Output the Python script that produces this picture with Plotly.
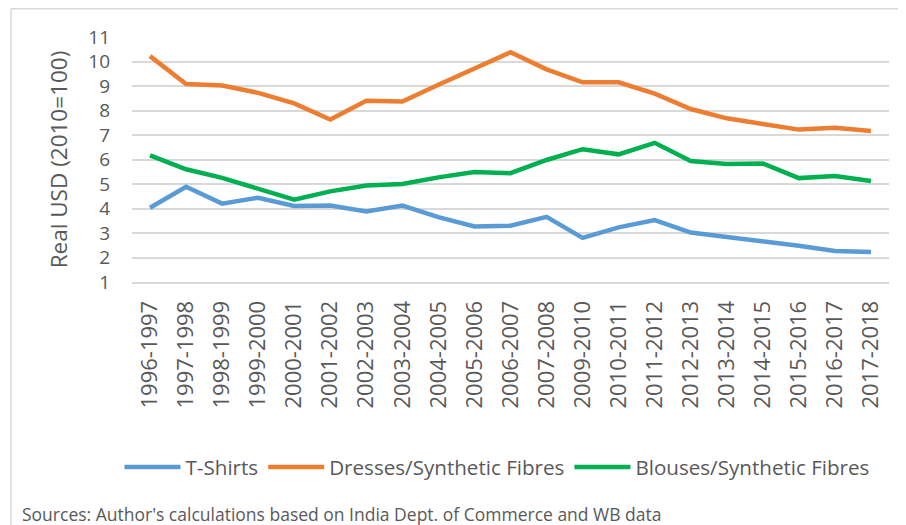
import plotly.graph_objects as go

categories = ["1996-1997", "1997-1998", "1998-1999", "1999-2000", "2000-2001",
              "2001-2002", "2002-2003", "2003-2004", "2004-2005", "2005-2006",
              "2006-2007", "2007-2008", "2009-2010", "2010-2011", "2011-2012",
              "2012-2013", "2013-2014", "2014-2015", "2015-2016", "2016-2017",
              "2017-2018"]

t_shirts = [4.03, 4.89, 4.20, 4.44, 4.10, 4.12, 3.88, 4.12, 3.65, 3.27,
            3.30, 3.66, 2.80, 3.23, 3.53, 3.02, 2.84, 2.67, 2.48, 2.27, 2.22]
dresses = [10.22, 9.08, 9.02, 8.72, 8.29, 7.63, 8.40, 8.37, 9.05, 9.70,
           10.38, 9.68, 9.15, 9.15, 8.69, 8.06, 7.68, 7.45, 7.22, 7.30, 7.16]
blouses = [6.17, 5.60, 5.25, 4.82, 4.36, 4.70, 4.94, 5.00, 5.27, 5.49,
           5.44, 5.98, 6.42, 6.21, 6.68, 5.94, 5.82, 5.84, 5.24, 5.33, 5.12]

series_names = ["T-Shirts", "Dresses/Synthetic Fibres", "Blouses/Synthetic Fibres"]
series_values = [t_shirts, dresses, blouses]
series_colors = ["#5B9BD5", "#ED7D31", "#00B050"]

y_ticks = list(range(1, 12))

TEXT = "#595959"
FONT = "Open Sans"

# The page body adds an 8px offset; the figure is sized to the visible area.
W, H = 898, 517
L, R, T, B = 124, 17, 29, 243
PW, PH = W - L - R, H - T - B


def px(rx):
    return (rx - 8 - L) / PW


def py(ry):
    return (H - B - (ry - 8)) / PH


fig = go.Figure()
for name, vals, col in zip(series_names, series_values, series_colors):
    fig.add_trace(go.Scatter(
        x=categories, y=vals, name=name, mode="lines",
        line=dict(color=col, width=4.5, shape="linear"),
    ))

fig.update_layout(
    width=W, height=H,
    margin=dict(l=L, r=R, t=T, b=B, autoexpand=False),
    paper_bgcolor="white", plot_bgcolor="white",
    font=dict(family=FONT, color=TEXT, size=21),
    showlegend=True,
    legend=dict(
        orientation="h", xref="container", yref="container",
        x=(497 - 8) / W, y=1 - (467 - 8) / H, xanchor="center", yanchor="middle",
        font=dict(family=FONT, size=20.6, color=TEXT),
        itemwidth=56, traceorder="normal", bgcolor="rgba(0,0,0,0)",
    ),
    xaxis=dict(
        type="category", tickangle=-90, range=[-0.5, len(categories) - 0.5],
        tickfont=dict(family=FONT, size=22, color=TEXT),
        showgrid=False, showline=True, linecolor="#D9D9D9", linewidth=2,
        ticks="", ticklabelstandoff=8, automargin=False,
    ),
    yaxis=dict(
        range=[1, 11], tickvals=y_ticks,
        tickfont=dict(family=FONT, size=19, color=TEXT),
        showgrid=True, gridcolor="#D9D9D9", gridwidth=2,
        zeroline=False, showline=False, ticks="",
        ticklabelstandoff=21, automargin=False,
        title=dict(text="Real USD (2010=100)", standoff=14,
                   font=dict(family=FONT, size=22.5, color=TEXT)),
    ),
    shapes=[
        dict(type="line", xref="paper", yref="paper",
             x0=px(11), x1=px(906), y0=py(8.75), y1=py(8.75),
             line=dict(color="#D9D9D9", width=1.5)),
        dict(type="line", xref="paper", yref="paper",
             x0=px(11), x1=px(11), y0=py(8.75), y1=py(530),
             line=dict(color="#D9D9D9", width=1.5)),
    ],
    annotations=[
        dict(text="Sources: Author's calculations based on India Dept. of Commerce and WB data",
             xref="paper", yref="paper", x=px(20), y=py(514),
             xanchor="left", yanchor="middle", showarrow=False,
             font=dict(family=FONT, size=17.5, color=TEXT)),
    ],
)

fig.write_html("out.html")
